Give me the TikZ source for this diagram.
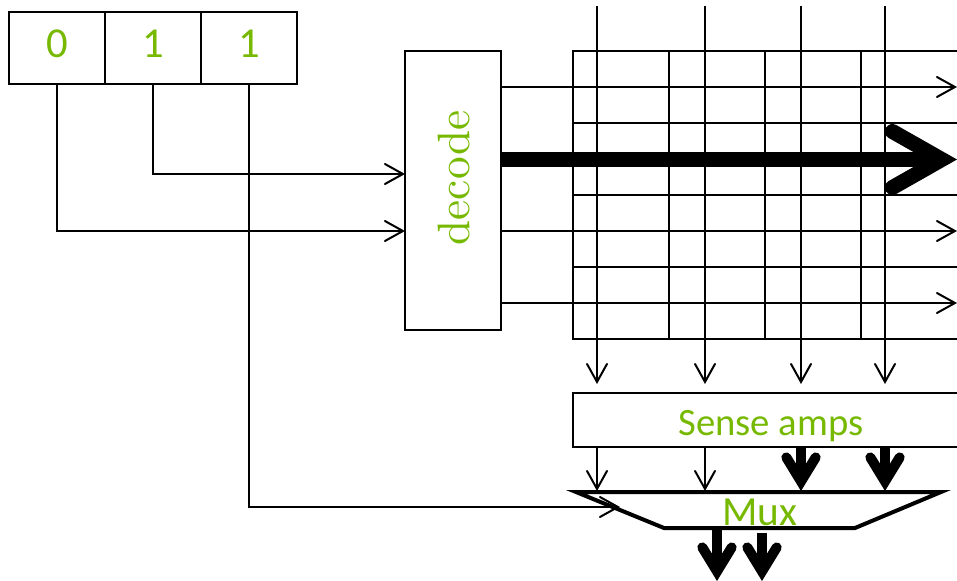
\documentclass[tikz,border=0pt]{standalone}
\usepackage{fontspec}
\newfontfamily\labelsans{Carlito}
\font\decodefont="[lmroman10-regular.otf]" at 34pt
\usetikzlibrary{arrows.meta}
\definecolor{nvgreen}{HTML}{76B900}
\tikzset{
  x=0.75pt, y=-0.75pt,
  wire/.style={draw=black, line width=1.5pt},
  gridline/.style={wire, line cap=rect},
  thinarrow/.style={wire, -{Straight Barb[length=13.5pt, width=15pt, line width=1.5pt, line cap=round, line join=miter]}},
  thickarrow/.style={draw=black, line width=7.5pt, -{Straight Barb[length=18pt, width=22pt, line width=7.5pt, line cap=round, line join=miter]}},
  hugearrow/.style={draw=black, line width=11.25pt, -{Straight Barb[length=37pt, width=42pt, line width=11.25pt, line cap=round, line join=miter]}},
  box/.style={draw=black, line width=1.5pt, inner sep=0pt, outer sep=0pt, anchor=north west},
  lbl/.style={text=nvgreen, inner sep=0pt},
  muxline/.style={draw=black, line width=3pt, line join=miter}
}
\begin{document}
\begin{tikzpicture}
\clip (0,0) rectangle (957,581);
% grid
\foreach \gy in {51,123,195,267,339} \draw[gridline] (573,\gy) -- (957,\gy);
\foreach \gx in {573,669,765,861} \draw[gridline] (\gx,51) -- (\gx,339);
% register
\node[box, minimum width=72pt, minimum height=54pt] (r0) at (9,12) {};
\node[box, minimum width=72pt, minimum height=54pt] (r1) at (105,12) {};
\node[box, minimum width=72pt, minimum height=54pt] (r2) at (201,12) {};
\node[lbl] (t0) at (57,44) {\labelsans\fontsize{32pt}{32pt}\selectfont 0};
\node[lbl] (t1) at (153,44) {\labelsans\fontsize{32pt}{32pt}\selectfont 1};
\node[lbl] (t2) at (249,44) {\labelsans\fontsize{32pt}{32pt}\selectfont 1};
% decode
\node[box, minimum width=72pt, minimum height=209.25pt] (dec) at (405,51) {};
\node[lbl, rotate=90] (dect) at (454,178) {\decodefont decode};
% sense amps
\node[box, minimum width=300pt, minimum height=40.5pt] (sa) at (573,393) {};
\node[lbl] (sat) at (771,426) {\labelsans\fontsize{29pt}{29pt}\selectfont Sense amps};
% mux
\coordinate (mtl) at (576,492);
\coordinate (mtr) at (941,492);
\coordinate (mbl) at (664,528);
\coordinate (mbr) at (855,528);
\draw[muxline] (mtl) -- (mbl) -- (mbr) -- (mtr) -- cycle;
\node[lbl] (muxt) at (760,512) {\labelsans\fontsize{31pt}{31pt}\selectfont Mux};
% address wires
\coordinate (c0) at (57,231);
\coordinate (c1) at (153,174);
\coordinate (c2) at (249,507);
\coordinate (mi) at (620,507);
\draw[thinarrow] (r0.south west -| c0) -- (c0) -- (c0 -| dec.west);
\draw[thinarrow] (r1.south west -| c1) -- (c1) -- (c1 -| dec.west);
\draw[thinarrow] (r2.south west -| c2) -- (c2) -- (mi);
% word lines
\coordinate (we1) at (957,87);
\coordinate (we2) at (957,159.5);
\coordinate (we3) at (957,231);
\coordinate (we4) at (957,303);
\draw[thinarrow] (we1 -| dec.east) -- (we1);
\draw[hugearrow] (we2 -| dec.east) -- (we2);
\draw[thinarrow] (we3 -| dec.east) -- (we3);
\draw[thinarrow] (we4 -| dec.east) -- (we4);
% bit lines
\foreach \bx/\by in {597/a,705/b,801/c,885/d}{
  \coordinate (top\by) at (\bx,6);
  \coordinate (bot\by) at (\bx,384);
  \draw[thinarrow] (top\by) -- (bot\by);
}
% sense to mux
\coordinate (ma) at (597,491);
\coordinate (mb) at (705,491);
\coordinate (mc) at (801,491);
\coordinate (md) at (885,491);
\draw[thinarrow] (ma |- sa.south) -- (ma);
\draw[thinarrow] (mb |- sa.south) -- (mb);
\draw[thickarrow] (mc |- sa.south) -- (mc);
\draw[thickarrow] (md |- sa.south) -- (md);
% outputs
\coordinate (o1) at (717,581);
\coordinate (o2) at (762,581);
\coordinate (o2s) at (762,533);
\draw[thickarrow] (o1 |- mbl) -- (o1);
\draw[thickarrow] (o2s) -- (o2);
\end{tikzpicture}
\end{document}
